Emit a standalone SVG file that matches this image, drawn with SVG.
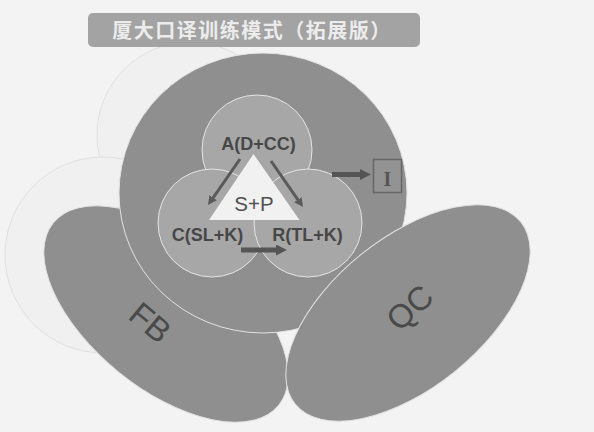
<svg xmlns="http://www.w3.org/2000/svg" width="594" height="432" viewBox="0 0 594 432">
<style>
.bg{fill:#f3f3f3}
.ghost{fill:#f0f0f0;stroke:#e0e0e0;stroke-width:1}
.big{fill:#8f8f8f;stroke:#e2e2e2;stroke-width:1}
.small{fill:#a7a7a7;stroke:#e4e4e4;stroke-width:1}
.lbl{font-family:"Liberation Sans",Arial,sans-serif;font-weight:bold;font-size:18px;fill:#474747;text-anchor:middle}
.big-lbl{font-family:"Liberation Sans",Arial,sans-serif;font-size:33px;fill:#4a4a4a;text-anchor:middle}
.thin{stroke:#5a5a5a;stroke-width:3;fill:none}
.thick{stroke:#555;stroke-width:5;fill:none}
</style>
<defs>
<marker id="hThin" viewBox="0 0 10 10" refX="2.2" refY="5" markerWidth="9" markerHeight="9" orient="auto" markerUnits="userSpaceOnUse">
<path d="M0,0 L10,5 L0,10 z" fill="#5a5a5a"/>
</marker>
<marker id="hThick" viewBox="0 0 10 10" refX="2" refY="5" markerWidth="11" markerHeight="11" orient="auto" markerUnits="userSpaceOnUse">
<path d="M0,0 L10,5 L0,10 z" fill="#555"/>
</marker>
</defs>
<rect class="bg" x="0" y="0" width="594" height="432"/>
<circle class="ghost" cx="190" cy="135" r="93"/>
<circle class="ghost" cx="103" cy="255" r="98"/>
<g id="title">
<rect x="88" y="13" width="332" height="34" rx="5" fill="#a3a3a3"/>
<text x="252" y="38" font-family="'Noto Sans CJK SC',sans-serif" font-size="20" font-weight="bold" fill="#ececec" text-anchor="middle" letter-spacing="1.5">厦大口译训练模式（拓展版）</text>
</g>
<g id="FB">
<ellipse class="big" cx="166" cy="314" rx="145" ry="75" transform="rotate(39 166 314)"/>
<text class="big-lbl" x="150" y="334" transform="rotate(40 150 323)">FB</text>
</g>
<g id="I-circle">
<ellipse class="big" cx="263" cy="193" rx="144" ry="140"/>
</g>
<g id="QC">
<ellipse class="big" cx="408" cy="313" rx="145" ry="75" transform="rotate(-39 408 313)"/>
<text class="big-lbl" x="410" y="319" transform="rotate(-42 410 308)">QC</text>
</g>
<g id="A">
<circle class="small" cx="257" cy="150" r="55"/>
</g>
<g id="C">
<circle class="small" cx="212" cy="223" r="54"/>
</g>
<g id="R">
<circle class="small" cx="308" cy="223" r="54"/>
</g>
<g id="SP">
<polygon points="253.5,154 209,220 299.5,220" fill="#f1f1f1"/>
<text x="254" y="211" font-family="'Liberation Sans',Arial,sans-serif" font-size="20.5" fill="#505050" text-anchor="middle">S+P</text>
</g>
<g id="labels">
<text class="lbl" x="258.5" y="150">A(D+CC)</text>
<text class="lbl" x="207.5" y="241">C(SL+K)</text>
<text class="lbl" x="307.5" y="241">R(TL+K)</text>
</g>
<g id="I">
<rect x="373.5" y="159.5" width="28" height="33" fill="#939393" stroke="#666" stroke-width="1.5"/>
<text x="387.5" y="186" font-family="'Liberation Serif',serif" font-weight="bold" font-size="20" fill="#555" text-anchor="middle">I</text>
</g>
<g id="connectors">
<line class="thin" x1="240" y1="159" x2="212" y2="199.3" marker-end="url(#hThin)"/>
<line class="thin" x1="271" y1="161" x2="299" y2="201.3" marker-end="url(#hThin)"/>
<line class="thick" x1="241" y1="250" x2="278.2" y2="250" marker-end="url(#hThick)"/>
<line class="thick" x1="332" y1="174.5" x2="362.2" y2="174.5" marker-end="url(#hThick)"/>
</g>
</svg>
